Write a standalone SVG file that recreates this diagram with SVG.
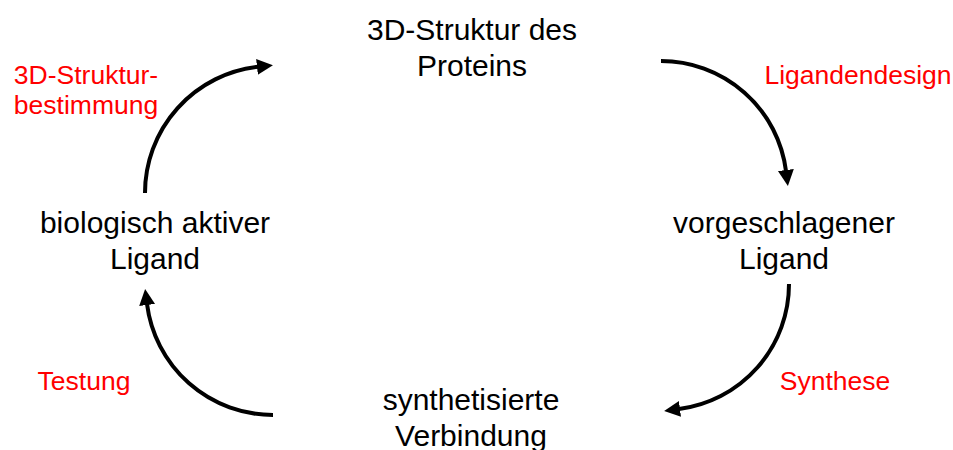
<svg xmlns="http://www.w3.org/2000/svg" width="953" height="450" viewBox="0 0 953 450">
<style>
.n{font-family:"Liberation Sans",Arial,sans-serif;font-size:30px;fill:#000;text-anchor:middle}
.l{font-family:"Liberation Sans",Arial,sans-serif;font-size:26.5px;fill:#ff0000;text-anchor:middle}
.c{fill:none;stroke:#000;stroke-width:4}
</style>
<defs>
<marker id="ah" markerWidth="17" markerHeight="17" refX="1" refY="8" orient="auto" markerUnits="userSpaceOnUse">
<path d="M0,0 L16,8 L0,16 z" fill="#000"/>
</marker>
</defs>
<rect width="953" height="450" fill="#fff"/>
<g id="connectors">
<path class="c" d="M145,193 A127,127 0 0 1 258,66.8" marker-end="url(#ah)"/>
<path class="c" d="M661,61 A126,126 0 0 1 786,171" marker-end="url(#ah)"/>
<path class="c" d="M789,284 A126,126 0 0 1 679,409" marker-end="url(#ah)"/>
<path class="c" d="M273,415 A127,127 0 0 1 147,304" marker-end="url(#ah)"/>
</g>
<g id="node-protein">
<text class="n" x="472" y="40">3D-Struktur des</text>
<text class="n" x="472" y="76">Proteins</text>
</g>
<g id="node-vorgeschlagen">
<text class="n" x="784" y="233">vorgeschlagener</text>
<text class="n" x="784" y="269">Ligand</text>
</g>
<g id="node-synthetisiert">
<text class="n" x="471" y="410">synthetisierte</text>
<text class="n" x="471" y="446">Verbindung</text>
</g>
<g id="node-biologisch">
<text class="n" x="155" y="233">biologisch aktiver</text>
<text class="n" x="155" y="269">Ligand</text>
</g>
<g id="labels">
<text class="l" x="86" y="84">3D-Struktur-</text>
<text class="l" x="86" y="114">bestimmung</text>
<text class="l" x="858" y="84">Ligandendesign</text>
<text class="l" x="835" y="390">Synthese</text>
<text class="l" x="84" y="390">Testung</text>
</g>
</svg>
